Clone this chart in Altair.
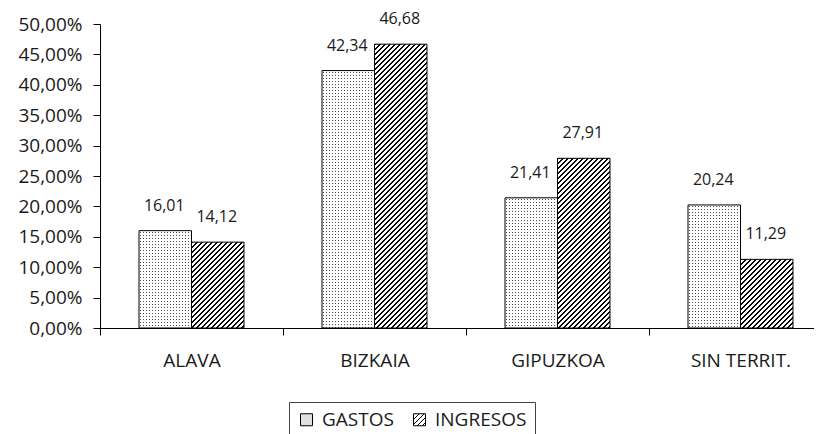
import altair as alt
import pandas as pd

# ---------------- data ----------------
categories = ["ALAVA", "BIZKAIA", "GIPUZKOA", "SIN TERRIT."]
series = ["GASTOS", "INGRESOS"]
gastos = [16.01, 42.34, 21.41, 20.24]
ingresos = [14.12, 46.68, 27.91, 11.29]
y_ticks = [0, 5, 10, 15, 20, 25, 30, 35, 40, 45, 50]

# ---------------- geometry / style ----------------
PLOT_H = 304
Y_MAX = 50
STEP = 183
BAR_W = 52.5
FONT = "Open Sans"
TXT = "#1a1a1a"

rows = []
for i, c in enumerate(categories):
    rows.append({"cat": c, "series": "GASTOS", "value": gastos[i]})
    rows.append({"cat": c, "series": "INGRESOS", "value": ingresos[i]})
df = pd.DataFrame(rows)


def px_h(v):
    return v / Y_MAX * PLOT_H


def stripes(span, period, on_start, on_end, on_color, off_color):
    stops = [{"offset": 0, "color": off_color}]
    k = 0
    while k * period < span:
        a = (k * period + on_start) / span
        b = (k * period + on_end) / span
        if a >= 1:
            break
        b = min(b, 1.0)
        a = round(a, 5)
        b = round(b, 5)
        stops += [
            {"offset": a, "color": off_color},
            {"offset": a, "color": on_color},
            {"offset": b, "color": on_color},
            {"offset": b, "color": off_color},
        ]
        k += 1
    stops.append({"offset": 1, "color": off_color})
    return stops


def hatch(w, h, period=5.0, line=1.5):
    span = w + h
    c = span / (w * w + h * h)
    return {"gradient": "linear", "x1": 0, "y1": 0, "x2": round(c * w, 5), "y2": round(c * h, 5),
            "stops": stripes(span, period, 0, line, "#000000", "#ffffff")}


def dot_rows(h):
    return {"gradient": "linear", "x1": 0, "y1": 0, "x2": 0, "y2": 1,
            "stops": stripes(h, 3.0, 1.0, 2.0, "rgba(255,255,255,0)", "#ffffff")}


dot_cols = {"gradient": "linear", "x1": 0, "y1": 0, "x2": 1, "y2": 0,
            "stops": stripes(BAR_W, 3.0, 1.0, 2.0, "#4d4d4d", "#ffffff")}


def cond_fill(values, kind):
    conds = []
    for c, v in zip(categories, values):
        g = hatch(BAR_W, px_h(v)) if kind == "hatch" else dot_rows(px_h(v))
        conds.append({"test": "datum.cat === '%s'" % c, "value": g})
    return alt.value("#ffffff", condition=conds)


# legend hatch symbol (12x12) as expression object
def legend_hatch_expr():
    st = stripes(24.0, 5.0, 0, 1.5, "#000000", "#ffffff")
    parts = ",".join("{offset:%s,color:'%s'}" % (s["offset"], s["color"]) for s in st)
    return "{gradient:'linear',x1:0,y1:0,x2:1,y2:1,stops:[%s]}" % parts


x_enc = alt.X("cat:N", sort=categories,
              scale=alt.Scale(domain=categories, range=[0, STEP * len(categories)], paddingInner=0, paddingOuter=0),
              axis=alt.Axis(title=None, tickBand="extent", tickSize=7, labelPadding=16, labelAngle=0,
                            domainColor="#000000", tickColor="#000000"))
xo_enc = alt.XOffset("series:N", sort=series,
                     scale=alt.Scale(domain=series, paddingInner=0, paddingOuter=0.743))
y_enc = alt.Y("value:Q", scale=alt.Scale(domain=[0, Y_MAX], nice=False, zero=True),
              axis=alt.Axis(title=None, values=y_ticks, tickSize=7, labelPadding=11, grid=False,
                            domainColor="#000000", tickColor="#000000",
                            labelExpr="replace(format(datum.value, '.2f'), '.', ',') + '%'"))

base = alt.Chart(df).encode(x=x_enc, xOffset=xo_enc, y=y_enc)

legend_layer = base.mark_bar(strokeWidth=0).encode(
    fill=alt.Fill("series:N", sort=series,
                  scale=alt.Scale(domain=series, range=["#e0e0e0", {"expr": legend_hatch_expr()}]),
                  legend=alt.Legend(title=None, orient="none", legendX=189, legendY=378,
                                    direction="horizontal", symbolType="square", symbolSize=144,
                                    symbolStrokeColor="#000000", symbolStrokeWidth=1,
                                    labelFont=FONT, labelFontSize=19, labelColor=TXT,
                                    labelOffset=6, columnPadding=16, padding=8,
                                    strokeColor="#444444", fillColor="#ffffff"))
)

dots_a = base.transform_filter("datum.series === 'GASTOS'").mark_bar(strokeWidth=0).encode(
    fill=alt.value(dot_cols))
dots_b = base.transform_filter("datum.series === 'GASTOS'").mark_bar(strokeWidth=0).encode(
    fill=cond_fill(gastos, "dots"))
hatch_layer = base.transform_filter("datum.series === 'INGRESOS'").mark_bar(strokeWidth=0).encode(
    fill=cond_fill(ingresos, "hatch"))
outline = base.mark_bar(fill="#ffffff", fillOpacity=0, stroke="#000000", strokeWidth=1)

labels = base.transform_calculate(
    label="replace(format(datum.value, '.2f'), '.', ',')"
).mark_text(dy=-20, dx=-1, fontSize=16, font=FONT, color=TXT, baseline="alphabetic", align="center").encode(
    text="label:N")

chart = alt.layer(legend_layer, dots_a, dots_b, hatch_layer, outline, labels).properties(
    width=714, height=PLOT_H,
    autosize=alt.AutoSizeParams(type="none"),
    padding={"left": 92, "top": 16, "right": 0, "bottom": 110},
).configure_view(stroke=None).configure_axis(
    labelFont=FONT, labelFontSize=19, labelColor=TXT, grid=False
)

chart.save("out.html", embed_options={"renderer": "svg", "actions": False})
